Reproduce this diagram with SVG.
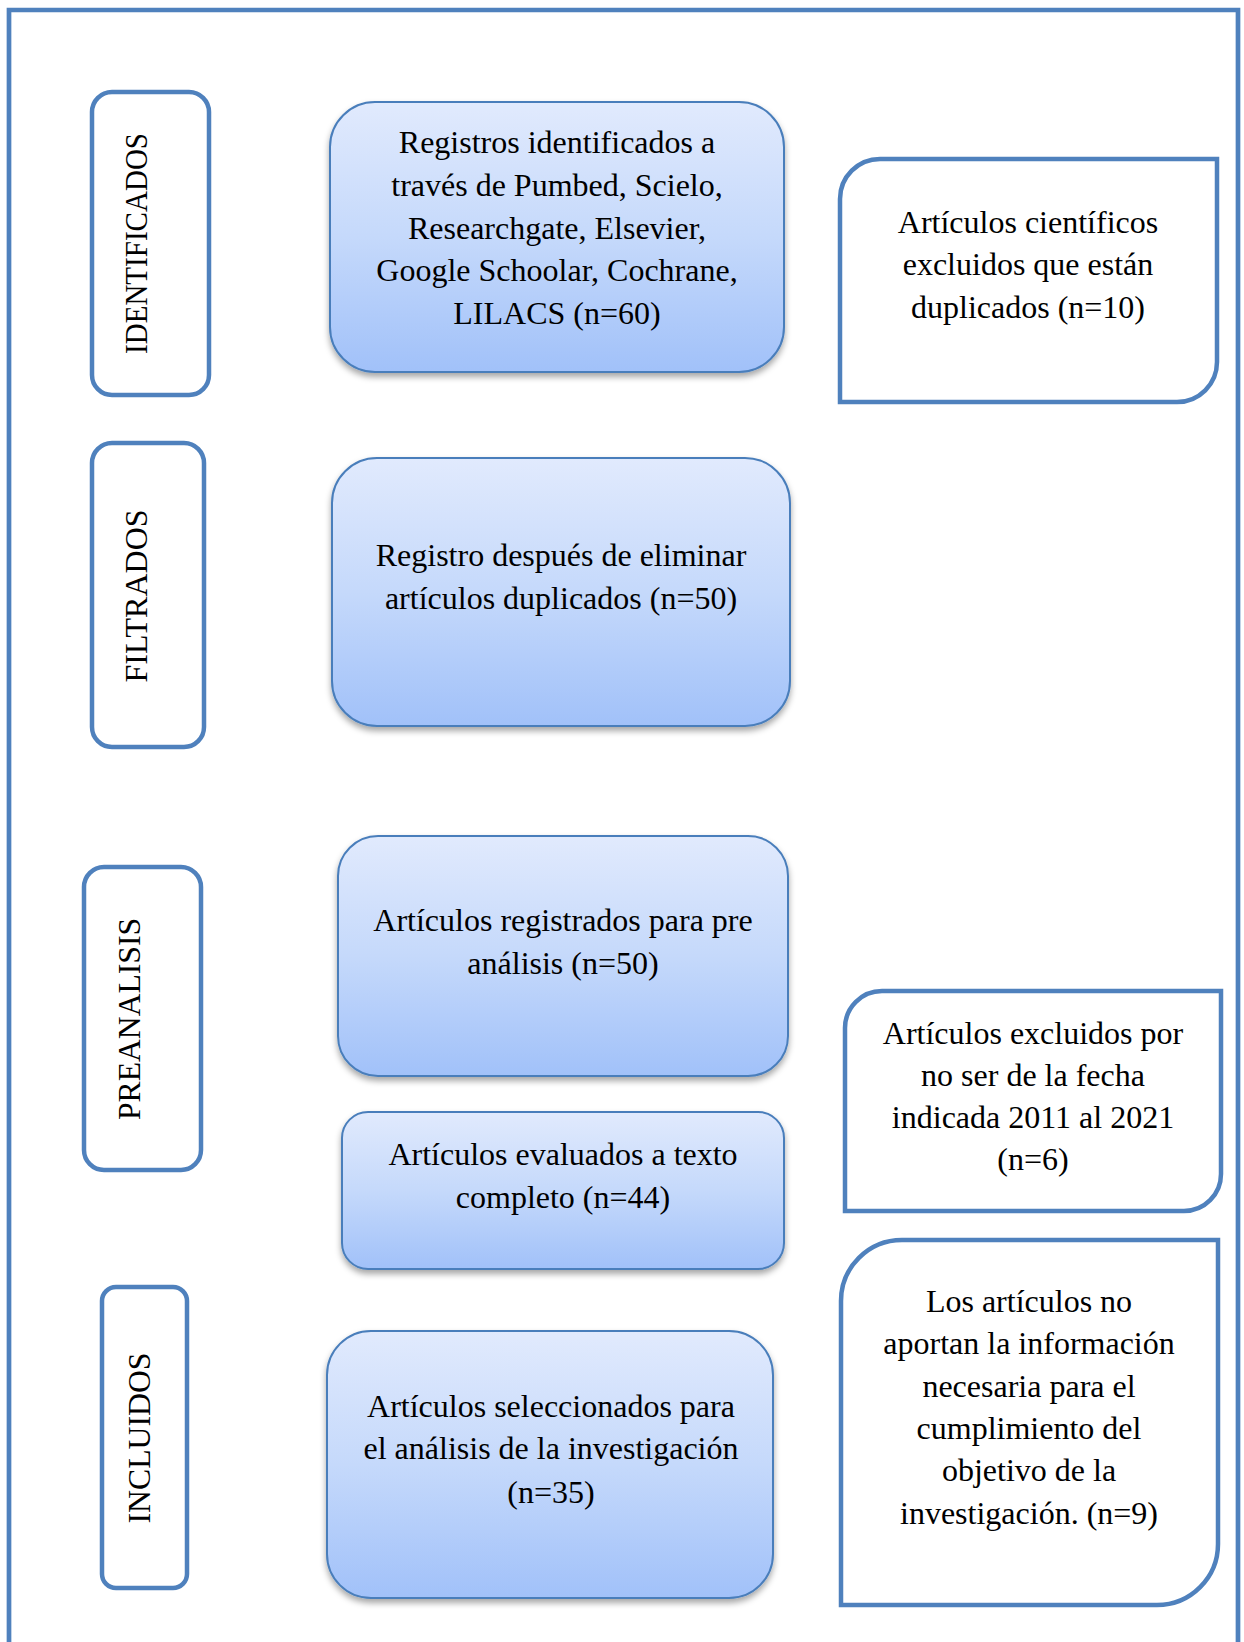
<svg xmlns="http://www.w3.org/2000/svg" width="1244" height="1642" viewBox="0 0 1244 1642">
<defs>
<linearGradient id="blueGrad" x1="0" y1="0" x2="0" y2="1">
<stop offset="0" stop-color="#e1eafd"/>
<stop offset="0.5" stop-color="#c5d9fb"/>
<stop offset="1" stop-color="#a1c1f9"/>
</linearGradient>
<filter id="shadow" x="-10%" y="-10%" width="120%" height="130%">
<feDropShadow dx="0" dy="4" stdDeviation="3" flood-color="#000" flood-opacity="0.35"/>
</filter>
</defs>
<style>
.frame{fill:none;stroke:#4f81bd;stroke-width:4.7}
.label{fill:#fff;stroke:#4f81bd;stroke-width:4.5}
.blue{fill:url(#blueGrad);stroke:#4a7ebb;stroke-width:2;filter:url(#shadow)}
.side{fill:#fff;stroke:#4f81bd;stroke-width:4.5}
text{font-family:"Liberation Serif","Times New Roman",serif;font-size:32px;fill:#000;text-anchor:middle}
</style>
<rect width="1244" height="1642" fill="#fff"/>
<path class="frame" d="M9,1650 V10 H1238 V1650"/>
<g id="connectors"/>

<g id="lbl-identificados">
<rect class="label" x="92" y="92" width="117" height="303" rx="20"/>
<text transform="translate(147,243.5) rotate(-90)" textLength="221" lengthAdjust="spacingAndGlyphs">IDENTIFICADOS</text>
</g>
<g id="lbl-filtrados">
<rect class="label" x="92" y="443" width="112" height="304" rx="20"/>
<text transform="translate(147,596) rotate(-90)">FILTRADOS</text>
</g>
<g id="lbl-preanalisis">
<rect class="label" x="84" y="867" width="117" height="303" rx="20"/>
<text transform="translate(140,1019) rotate(-90)" textLength="202" lengthAdjust="spacingAndGlyphs">PREANALISIS</text>
</g>
<g id="lbl-incluidos">
<rect class="label" x="102" y="1287" width="85" height="301" rx="14"/>
<text transform="translate(150,1438) rotate(-90)" textLength="171" lengthAdjust="spacingAndGlyphs">INCLUIDOS</text>
</g>

<g id="n-registros">
<rect class="blue" x="330" y="102" width="454" height="270" rx="45"/>
<text x="557" y="153">Registros identificados a</text>
<text x="557" y="196">través de Pumbed, Scielo,</text>
<text x="557" y="238.5">Researchgate, Elsevier,</text>
<text x="557" y="281">Google Schoolar, Cochrane,</text>
<text x="557" y="323.5">LILACS (n=60)</text>
</g>
<g id="n-filtrados">
<rect class="blue" x="332" y="458" width="458" height="268" rx="45"/>
<text x="561" y="566">Registro después de eliminar</text>
<text x="561" y="609">artículos duplicados (n=50)</text>
</g>
<g id="n-preanalisis">
<rect class="blue" x="338" y="836" width="450" height="240" rx="40"/>
<text x="563" y="931">Artículos registrados para pre</text>
<text x="563" y="973.5">análisis (n=50)</text>
</g>
<g id="n-evaluados">
<rect class="blue" x="342" y="1112" width="442" height="157" rx="26"/>
<text x="563" y="1165">Artículos evaluados a texto</text>
<text x="563" y="1208">completo (n=44)</text>
</g>
<g id="n-seleccionados">
<rect class="blue" x="327" y="1331" width="446" height="267" rx="44"/>
<text x="551" y="1417">Artículos seleccionados para</text>
<text x="551" y="1459">el análisis de la investigación</text>
<text x="551" y="1503">(n=35)</text>
</g>

<g id="x-duplicados">
<path class="side" d="M880,159 H1217 V362 A40,40 0 0 1 1177,402 H840 V199 A40,40 0 0 1 880,159 Z"/>
<text x="1028" y="233">Artículos científicos</text>
<text x="1028" y="275">excluidos que están</text>
<text x="1028" y="318">duplicados (n=10)</text>
</g>
<g id="x-fecha">
<path class="side" d="M882,991 H1221 V1174 A37,37 0 0 1 1184,1211 H845 V1028 A37,37 0 0 1 882,991 Z"/>
<text x="1033" y="1044">Artículos excluidos por</text>
<text x="1033" y="1086">no ser de la fecha</text>
<text x="1033" y="1128">indicada 2011 al 2021</text>
<text x="1033" y="1170">(n=6)</text>
</g>
<g id="x-objetivo">
<path class="side" d="M902,1240 H1218 V1544 A61,61 0 0 1 1157,1605 H841 V1301 A61,61 0 0 1 902,1240 Z"/>
<text x="1029" y="1312">Los artículos no</text>
<text x="1029" y="1354">aportan la información</text>
<text x="1029" y="1397">necesaria para el</text>
<text x="1029" y="1439">cumplimiento del</text>
<text x="1029" y="1481">objetivo de la</text>
<text x="1029" y="1524">investigación. (n=9)</text>
</g>
</svg>
